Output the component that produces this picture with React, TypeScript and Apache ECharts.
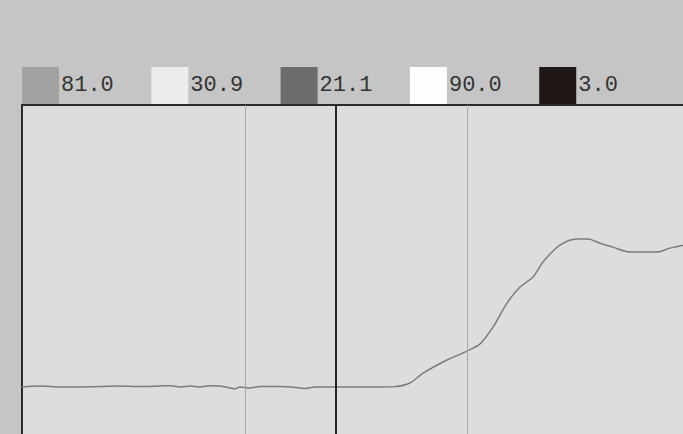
import React, { useEffect, useRef } from "react";
import * as echarts from "echarts";

// Legend readings and swatch colours
const legendValues = ["81.0", "30.9", "21.1", "90.0", "3.0"];
const legendColors = ["#a2a2a2", "#ececec", "#6c6c6c", "#fdfdfd", "#1f1616"];

// Trace: horizontal position (px units along the time axis) and level (% of plot height)
const traceX = [0, 18, 38, 58, 78, 98, 118, 138, 148, 158, 168, 178, 188, 198, 208, 213, 218, 228, 238, 258, 278, 283, 293, 318, 358, 373, 388, 401, 425, 445, 458, 471, 485, 498, 511, 521, 538, 555, 566, 578, 591, 608, 635, 648, 661];
const traceY = [14.3, 14.6, 14.3, 14.3, 14.4, 14.6, 14.4, 14.6, 14.7, 14.3, 14.6, 14.3, 14.7, 14.6, 14.0, 13.7, 14.3, 14.0, 14.4, 14.4, 14.0, 13.8, 14.3, 14.3, 14.3, 14.4, 15.5, 18.5, 22.5, 25.2, 27.4, 32.5, 39.8, 44.7, 47.7, 52.3, 57.4, 59.3, 59.3, 58.0, 56.8, 55.3, 55.3, 56.5, 57.4];

// Cursor lines (positions on the time axis)
const cursorPositions = [223, 314, 445];
const cursorColors = ["#a9a9a9", "#262626", "#a9a9a9"];
const cursorWidths = [1, 2, 1];

export default function App() {
  const ref = useRef<HTMLDivElement>(null);
  useEffect(() => {
    document.body.style.margin = "0";
    const chart = echarts.init(ref.current!, undefined, { renderer: "svg" });
    const legendSeries = legendValues.map((name, i) => ({
      name,
      type: "line" as const,
      data: [],
      color: legendColors[i],
      itemStyle: { color: legendColors[i] },
    }));
    chart.setOption({
      animation: false,
      backgroundColor: "#c5c5c5",
      legend: {
        data: legendValues.map((n) => ({ name: n, icon: "rect" })),
        left: 22,
        top: 67,
        padding: 0,
        itemWidth: 37,
        itemHeight: 37,
        itemGap: 37.5,
        selectedMode: false,
        textStyle: {
          fontFamily: "Liberation Mono",
          fontSize: 22,
          color: "#333333",
          padding: [0, 0, 0, -3],
        },
      },
      grid: {
        left: 22,
        right: 0,
        top: 105,
        bottom: 0,
        show: true,
        backgroundColor: "#dddddd",
        borderWidth: 0,
      },
      xAxis: {
        type: "value",
        position: "top",
        min: 0,
        max: 661,
        axisLine: { show: true, onZero: false, lineStyle: { color: "#2a2a2a", width: 2 } },
        axisTick: { show: false },
        axisLabel: { show: false },
        splitLine: { show: false },
      },
      yAxis: {
        type: "value",
        min: 0,
        max: 100,
        axisLine: { show: true, onZero: false, lineStyle: { color: "#2a2a2a", width: 2 } },
        axisTick: { show: false },
        axisLabel: { show: false },
        splitLine: { show: false },
      },
      series: [
        ...legendSeries,
        {
          name: "trace",
          type: "line",
          data: traceX.map((x, i) => [x, traceY[i]]),
          showSymbol: false,
          smooth: 0.3,
          lineStyle: { color: "#7c7c7c", width: 1.5 },
          markLine: {
            silent: true,
            symbol: "none",
            label: { show: false },
            data: cursorPositions.map((x, i) => ({
              xAxis: x,
              lineStyle: { color: cursorColors[i], width: cursorWidths[i], type: "solid" },
            })),
          },
        },
      ],
    });
    return () => chart.dispose();
  }, []);
  return <div ref={ref} style={{ position: "fixed", left: 0, top: 0, width: 683, height: 434 }} />;
}
